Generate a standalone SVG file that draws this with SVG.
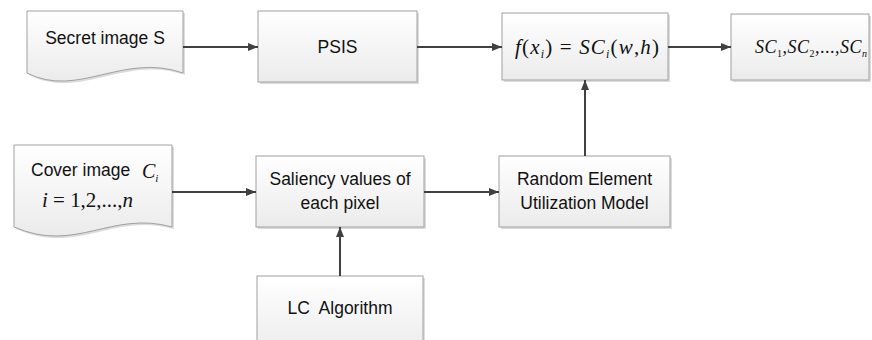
<svg xmlns="http://www.w3.org/2000/svg" width="872" height="340" viewBox="0 0 872 340">
<style>
.box{fill:url(#g);stroke:#a0a0a0;stroke-width:1}
.sh{fill:#dcdcdc}
.t{font-family:"Liberation Sans",Arial,sans-serif;font-size:17.5px;fill:#111;text-anchor:middle}
.m{font-family:"Liberation Serif","Times New Roman",serif;font-style:italic;fill:#111}
.r{font-style:normal}
.c line{stroke:#404040;stroke-width:2;marker-end:url(#a)}
</style>
<defs>
<linearGradient id="g" x1="0" y1="0" x2="0" y2="1">
<stop offset="0" stop-color="#ffffff"/>
<stop offset="1" stop-color="#ebebeb"/>
</linearGradient>
<marker id="a" viewBox="0 0 10 8" refX="10" refY="4" markerWidth="10" markerHeight="8" markerUnits="userSpaceOnUse" orient="auto">
<path d="M0,0 L10,4 L0,8 z" fill="#404040"/>
</marker>
</defs>
<rect width="872" height="340" fill="#ffffff"/>
<g id="secret">
<path class="sh" d="M29,13 H185 V75 C125,54 80,101 29,75 Z"/>
<path class="box" d="M27,11 H183 V73 C123,52 78,99 27,73 Z"/>
<text class="t" x="105" y="44">Secret image S</text>
</g>
<g id="psis">
<rect class="sh" x="260" y="13" width="159" height="71"/>
<rect class="box" x="258" y="11" width="159" height="71"/>
<text class="t" x="337.5" y="53">PSIS</text>
</g>
<g id="fx">
<rect class="sh" x="504" y="15" width="166" height="67"/>
<rect class="box" x="502" y="13" width="166" height="67"/>
<text class="m" x="515" y="54" font-size="21" textLength="144" lengthAdjust="spacing">f<tspan class="r">(</tspan>x<tspan font-size="12" dy="4">i</tspan><tspan class="r" dy="-4">) = </tspan>SC<tspan font-size="12" dy="4">i</tspan><tspan class="r" dy="-4">(</tspan>w<tspan class="r">,</tspan>h<tspan class="r">)</tspan></text>
</g>
<g id="shares">
<rect class="sh" x="733" y="16" width="138" height="66"/>
<rect class="box" x="731" y="14" width="138" height="66"/>
<text class="m" x="755" y="53" font-size="18" textLength="112" lengthAdjust="spacing">SC<tspan class="r" font-size="10" dy="4">1</tspan><tspan class="r" dy="-4">,</tspan>SC<tspan class="r" font-size="10" dy="4">2</tspan><tspan class="r" dy="-4">,...,</tspan>SC<tspan font-size="10" dy="4">n</tspan></text>
</g>
<g id="cover">
<path class="sh" d="M16,147 H174 V229 C113,212 78,256 16,229 Z"/>
<path class="box" d="M14,145 H172 V227 C111,210 76,254 14,227 Z"/>
<text class="t" x="31" y="176" style="text-anchor:start">Cover image</text>
<text class="m" x="142" y="178" font-size="20">C<tspan font-size="11" dy="4">i</tspan></text>
<text class="m" x="42" y="207" font-size="21" textLength="91" lengthAdjust="spacing">i<tspan class="r"> = 1,2,...,</tspan>n</text>
</g>
<g id="saliency">
<rect class="sh" x="258" y="158" width="168" height="71"/>
<rect class="box" x="256" y="156" width="168" height="71"/>
<text class="t" x="340" y="185">Saliency values of</text>
<text class="t" x="340" y="209">each pixel</text>
</g>
<g id="reum">
<rect class="sh" x="501" y="158" width="171" height="71"/>
<rect class="box" x="499" y="156" width="171" height="71"/>
<text class="t" x="584.5" y="185">Random Element</text>
<text class="t" x="584.5" y="209">Utilization Model</text>
</g>
<g id="lc">
<rect class="sh" x="259" y="278" width="166" height="80"/>
<rect class="box" x="257" y="276" width="166" height="80"/>
<text class="t" x="340" y="314" style="white-space:pre">LC  Algorithm</text>
</g>
<g class="c" id="connectors">
<line x1="183" y1="47" x2="258" y2="47"/>
<line x1="417" y1="47" x2="502" y2="47"/>
<line x1="668" y1="47" x2="731" y2="47"/>
<line x1="585" y1="156" x2="585" y2="80"/>
<line x1="172" y1="192" x2="256" y2="192"/>
<line x1="424" y1="192" x2="499" y2="192"/>
<line x1="340" y1="276" x2="340" y2="227"/>
</g>
</svg>
